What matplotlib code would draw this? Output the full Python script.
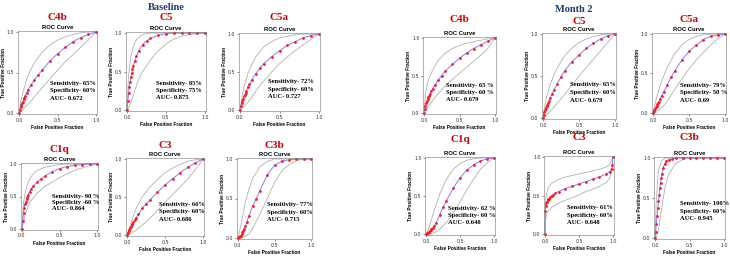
import matplotlib
matplotlib.use("Agg")
import matplotlib.pyplot as plt

# ---- data ----
fpr_grid = [0, 0.01, 0.02, 0.03, 0.04, 0.05, 0.06, 0.07, 0.08, 0.1, 0.12, 0.15,
            0.2, 0.25, 0.3, 0.4, 0.5, 0.6, 0.7, 0.8, 0.9, 1.0]
band_fpr = [0, 0.02, 0.05, 0.1, 0.15, 0.2, 0.3, 0.4, 0.5, 0.6, 0.7, 0.8, 0.9, 1.0]

# Baseline
b_c4b_tpr = [0, 0.04, 0.07, 0.1, 0.12, 0.14, 0.17, 0.19, 0.21, 0.25, 0.29, 0.34, 0.41, 0.47, 0.53, 0.64, 0.73, 0.81, 0.88, 0.93, 0.97, 1.0]
b_c4b_up = [0, 0.12, 0.25, 0.42, 0.53, 0.62, 0.75, 0.84, 0.9, 0.94, 0.97, 0.99, 1.0, 1.0]
b_c4b_lo = [0, 0.015, 0.04, 0.09, 0.14, 0.2, 0.31, 0.42, 0.53, 0.63, 0.72, 0.81, 0.9, 1.0]

b_c5_tpr = [0, 0.12, 0.22, 0.3, 0.37, 0.43, 0.48, 0.53, 0.57, 0.64, 0.7, 0.77, 0.85, 0.9, 0.93, 0.97, 0.99, 1, 1, 1, 1, 1]
b_c5_up = [0, 0.45, 0.7, 0.88, 0.95, 0.98, 1, 1, 1, 1, 1, 1, 1, 1]
b_c5_lo = [0, 0.03, 0.1, 0.25, 0.4, 0.5, 0.65, 0.77, 0.86, 0.92, 0.96, 0.98, 0.99, 1.0]

b_c5a_tpr = [0, 0.05, 0.09, 0.12, 0.15, 0.18, 0.2, 0.22, 0.25, 0.3, 0.34, 0.4, 0.48, 0.55, 0.61, 0.7, 0.78, 0.85, 0.9, 0.95, 0.98, 1.0]
b_c5a_up = [0, 0.15, 0.3, 0.48, 0.6, 0.7, 0.83, 0.9, 0.95, 0.97, 0.99, 1, 1, 1]
b_c5a_lo = [0, 0.02, 0.05, 0.1, 0.17, 0.25, 0.38, 0.5, 0.61, 0.7, 0.78, 0.86, 0.93, 1.0]

b_c1q_tpr = [0, 0.13, 0.25, 0.33, 0.38, 0.42, 0.46, 0.49, 0.52, 0.57, 0.61, 0.66, 0.72, 0.77, 0.81, 0.88, 0.93, 0.96, 0.98, 0.99, 1, 1]
b_c1q_up = [0, 0.4, 0.6, 0.77, 0.85, 0.9, 0.95, 0.97, 0.99, 1, 1, 1, 1, 1]
b_c1q_lo = [0, 0.12, 0.25, 0.4, 0.48, 0.55, 0.65, 0.72, 0.79, 0.85, 0.9, 0.94, 0.97, 1.0]

b_c3_tpr = [0, 0.03, 0.05, 0.07, 0.09, 0.11, 0.13, 0.15, 0.17, 0.2, 0.23, 0.27, 0.35, 0.41, 0.46, 0.56, 0.66, 0.74, 0.82, 0.89, 0.95, 1.0]
b_c3_up = [0, 0.07, 0.15, 0.3, 0.41, 0.5, 0.63, 0.73, 0.82, 0.88, 0.93, 0.97, 0.99, 1.0]
b_c3_lo = [0, 0.01, 0.02, 0.05, 0.09, 0.13, 0.22, 0.32, 0.43, 0.53, 0.63, 0.74, 0.86, 1.0]

b_c3b_tpr = [0, 0.01, 0.015, 0.02, 0.03, 0.05, 0.07, 0.09, 0.11, 0.15, 0.2, 0.28, 0.4, 0.5, 0.6, 0.8, 0.92, 0.97, 0.99, 1, 1, 1]
b_c3b_up = [0, 0.08, 0.2, 0.45, 0.62, 0.75, 0.9, 0.97, 1, 1, 1, 1, 1, 1]
b_c3b_lo = [0, 0, 0, 0.02, 0.05, 0.12, 0.3, 0.5, 0.7, 0.85, 0.93, 0.98, 1, 1]

# Month 2
m_c4b_tpr = [0, 0.06, 0.1, 0.13, 0.16, 0.19, 0.21, 0.23, 0.25, 0.29, 0.32, 0.37, 0.44, 0.5, 0.56, 0.65, 0.73, 0.8, 0.86, 0.91, 0.96, 1.0]
m_c4b_up = [0, 0.25, 0.4, 0.53, 0.62, 0.7, 0.8, 0.86, 0.9, 0.93, 0.95, 0.97, 0.99, 1.0]
m_c4b_lo = [0, 0.03, 0.07, 0.14, 0.2, 0.26, 0.36, 0.45, 0.53, 0.61, 0.69, 0.77, 0.86, 1.0]

m_c5_tpr = [0, 0.04, 0.07, 0.1, 0.12, 0.14, 0.16, 0.18, 0.2, 0.24, 0.28, 0.33, 0.41, 0.49, 0.56, 0.67, 0.75, 0.83, 0.89, 0.94, 0.98, 1.0]
m_c5_up = [0, 0.12, 0.25, 0.4, 0.51, 0.6, 0.74, 0.83, 0.9, 0.94, 0.97, 0.99, 1, 1]
m_c5_lo = [0, 0.015, 0.04, 0.08, 0.13, 0.18, 0.28, 0.39, 0.5, 0.6, 0.7, 0.8, 0.9, 1.0]

m_c5a_tpr = [0, 0.02, 0.04, 0.05, 0.07, 0.09, 0.11, 0.13, 0.14, 0.18, 0.22, 0.27, 0.36, 0.45, 0.53, 0.67, 0.78, 0.86, 0.93, 0.97, 0.99, 1.0]
m_c5a_up = [0, 0.08, 0.2, 0.35, 0.47, 0.58, 0.75, 0.86, 0.93, 0.97, 0.99, 1, 1, 1]
m_c5a_lo = [0, 0, 0.01, 0.05, 0.1, 0.15, 0.3, 0.43, 0.56, 0.67, 0.77, 0.86, 0.94, 1.0]

m_c1q_tpr = [0, 0.004, 0.008, 0.013, 0.02, 0.03, 0.04, 0.05, 0.06, 0.08, 0.11, 0.15, 0.25, 0.35, 0.44, 0.6, 0.74, 0.84, 0.91, 0.96, 0.99, 1.0]
m_c1q_up = [0, 0.03, 0.1, 0.25, 0.39, 0.52, 0.72, 0.85, 0.93, 0.97, 0.99, 1, 1, 1]
m_c1q_lo = [0, 0, 0, 0.01, 0.03, 0.06, 0.15, 0.28, 0.42, 0.58, 0.72, 0.85, 0.94, 1.0]

m_c3_fpr = [0, 0.002, 0.01, 0.02, 0.03, 0.04, 0.05, 0.06, 0.08, 0.1, 0.12, 0.15, 0.2, 0.3,
            0.4, 0.5, 0.6, 0.7, 0.8, 0.9, 0.95, 0.98, 0.99, 1.0]
m_c3_tpr = [0, 0.3, 0.36, 0.4, 0.42, 0.44, 0.45, 0.46, 0.48, 0.5, 0.51, 0.53, 0.55, 0.59,
            0.62, 0.65, 0.68, 0.71, 0.74, 0.78, 0.81, 0.85, 0.9, 1.0]
m_c3_band_fpr = [0, 0.01, 0.03, 0.05, 0.1, 0.2, 0.3, 0.4, 0.5, 0.6, 0.7, 0.8, 0.9, 0.95, 1.0]
m_c3_up = [0, 0.45, 0.55, 0.6, 0.66, 0.71, 0.74, 0.76, 0.78, 0.8, 0.82, 0.84, 0.87, 0.9, 1.0]
m_c3_lo = [0, 0.2, 0.27, 0.3, 0.35, 0.4, 0.44, 0.47, 0.51, 0.55, 0.58, 0.62, 0.67, 0.72, 0.92]

m_c3b_fpr = [0, 0.01, 0.02, 0.03, 0.04, 0.05, 0.06, 0.07, 0.08, 0.09, 0.1, 0.12, 0.14, 0.16,
             0.2, 0.25, 0.3, 0.4, 0.5, 0.6, 0.7, 0.8, 0.9, 1.0]
m_c3b_tpr = [0, 0.08, 0.18, 0.28, 0.37, 0.46, 0.54, 0.62, 0.69, 0.75, 0.8, 0.88, 0.93, 0.96,
             0.98, 0.99, 1, 1, 1, 1, 1, 1, 1, 1]
m_c3b_up = [0, 0.5, 0.85, 0.97, 1, 1, 1, 1, 1, 1, 1, 1, 1, 1]
m_c3b_lo = [0, 0.02, 0.1, 0.4, 0.65, 0.8, 0.93, 0.98, 1, 1, 1, 1, 1, 1]

names = ["C4b", "C5", "C5a", "C1q", "C3", "C3b",
         "C4b", "C5", "C5a", "C1q", "C3", "C3b"]
stats = [
    ["Sensitivity- 65%", "Specificity- 60%", "AUC- 0.672"],
    ["Sensitivity- 85%", "Specificity- 75%", "AUC- 0.875"],
    ["Sensitivity- 72%", "Specificity- 60%", "AUC- 0.727"],
    ["Sensitivity- 90 %", "Specificity -60 %", "AUC- 0.864"],
    ["Sensitivity- 66%", "Specificity- 60%", "AUC- 0.686"],
    ["Sensitivity- 77%", "Specificity- 60%", "AUC- 0.715"],
    ["Sensitivity- 65 %", "Specificity- 60 %", "AUC- 0.679"],
    ["Sensitivity- 65%", "Specificity- 60%", "AUC- 0.679"],
    ["Sensitivity- 79%", "Specificity- 50 %", "AUC- 0.69"],
    ["Sensitivity- 62 %", "Specificity- 60 %", "AUC- 0.648"],
    ["Sensitivity- 61%", "Specificity- 60%", "AUC- 0.648"],
    ["Sensitivity- 100%", "Specificity- 60%", "AUC- 0.945"],
]

curves = [
    (fpr_grid, b_c4b_tpr, band_fpr, b_c4b_up, b_c4b_lo),
    (fpr_grid, b_c5_tpr, band_fpr, b_c5_up, b_c5_lo),
    (fpr_grid, b_c5a_tpr, band_fpr, b_c5a_up, b_c5a_lo),
    (fpr_grid, b_c1q_tpr, band_fpr, b_c1q_up, b_c1q_lo),
    (fpr_grid, b_c3_tpr, band_fpr, b_c3_up, b_c3_lo),
    (fpr_grid, b_c3b_tpr, band_fpr, b_c3b_up, b_c3b_lo),
    (fpr_grid, m_c4b_tpr, band_fpr, m_c4b_up, m_c4b_lo),
    (fpr_grid, m_c5_tpr, band_fpr, m_c5_up, m_c5_lo),
    (fpr_grid, m_c5a_tpr, band_fpr, m_c5a_up, m_c5a_lo),
    (fpr_grid, m_c1q_tpr, band_fpr, m_c1q_up, m_c1q_lo),
    (m_c3_fpr, m_c3_tpr, m_c3_band_fpr, m_c3_up, m_c3_lo),
    (m_c3b_fpr, m_c3b_tpr, band_fpr, m_c3b_up, m_c3b_lo),
]

# ---- layout (pixels): x of 0 and 1, y of 1 and 0, title y, text anchor ----
W, H = 730, 258
boxes = [
    (19, 96, 32, 113, 17, (0.40, 0.37)),
    (127, 205, 33, 110, 17, (0.37, 0.35)),
    (240, 319, 34, 110, 17, (0.36, 0.37)),
    (22, 97, 164, 229, 150, (0.40, 0.50)),
    (127, 203, 159, 235, 146, (0.42, 0.40)),
    (238, 311, 159, 238, 145, (0.40, 0.42)),
    (424, 495, 38, 113, 20, (0.31, 0.37)),
    (543, 615, 34, 118, 22, (0.38, 0.40)),
    (653, 725, 34, 113, 20, (0.38, 0.35)),
    (426, 494, 158, 234, 140, (0.32, 0.34)),
    (545, 613, 157, 234, 138, (0.33, 0.34)),
    (655, 724, 158, 238, 138, (0.36, 0.43)),
]

serif = "Liberation Serif"
sans = "Liberation Sans"
lo_lim, hi_lim = -0.015, 1.015

fig = plt.figure(figsize=(W / 100, H / 100), dpi=100)

for i, (x0, x1, y1, y0, ty, (tx_d, ty_d)) in enumerate(boxes):
    w = x1 - x0
    h = y0 - y1
    left = (x0 + lo_lim * w) / W
    bottom = 1 - (y0 - lo_lim * h) / H
    ax = fig.add_axes([left, bottom, (hi_lim - lo_lim) * w / W, (hi_lim - lo_lim) * h / H])
    fpr, tpr, bx, up, lo = curves[i]
    ax.plot(bx, up, color="#b0b0b0", lw=0.6)
    ax.plot(bx, lo, color="#b0b0b0", lw=0.6)
    ax.plot(fpr, tpr, color="#8080ff", lw=0.7)
    ax.plot(fpr, tpr, ls="none", marker="o", ms=2.0, color="#ff1a1a", mew=0)
    ax.set_xlim(lo_lim, hi_lim)
    ax.set_ylim(lo_lim, hi_lim)
    ax.set_xticks([0, 0.5, 1.0])
    ax.set_yticks([0, 0.5, 1.0])
    ax.set_xticklabels(["0.0", "0.5", "1.0"])
    ax.set_yticklabels(["0.0", "0.5", "1.0"])
    ax.tick_params(length=1.5, width=0.4, labelsize=3.4, pad=1, colors="#333333")
    for s in ax.spines.values():
        s.set_linewidth(0.4)
        s.set_color("#777777")
    ax.set_xlabel("False Positive Fraction", fontsize=3.4, fontweight="bold",
                  family=sans, labelpad=1.5)
    ax.set_ylabel("True Positive Fraction", fontsize=3.4, fontweight="bold",
                  family=sans, labelpad=0.8)
    ax.set_title("ROC Curve", fontsize=4.2, fontweight="bold", family=sans, pad=1.5)
    for k, line in enumerate(stats[i]):
        ax.text(tx_d, ty_d - k * 0.095, line, fontsize=4.7, fontweight="bold",
                family=serif, va="center", ha="left")
    fig.text((x0 + x1) / 2 / W, 1 - ty / H, names[i], fontsize=8, fontweight="bold",
             family=serif, color="#cc0000", ha="center", va="center")

fig.text(166 / W, 1 - 7 / H, "Baseline", fontsize=7.5, fontweight="bold",
         family=serif, color="#1f3c78", ha="center", va="center")
fig.text(574 / W, 1 - 9 / H, "Month 2", fontsize=7.5, fontweight="bold",
         family=serif, color="#1f3c78", ha="center", va="center")

fig.savefig("out.png", dpi=100)
